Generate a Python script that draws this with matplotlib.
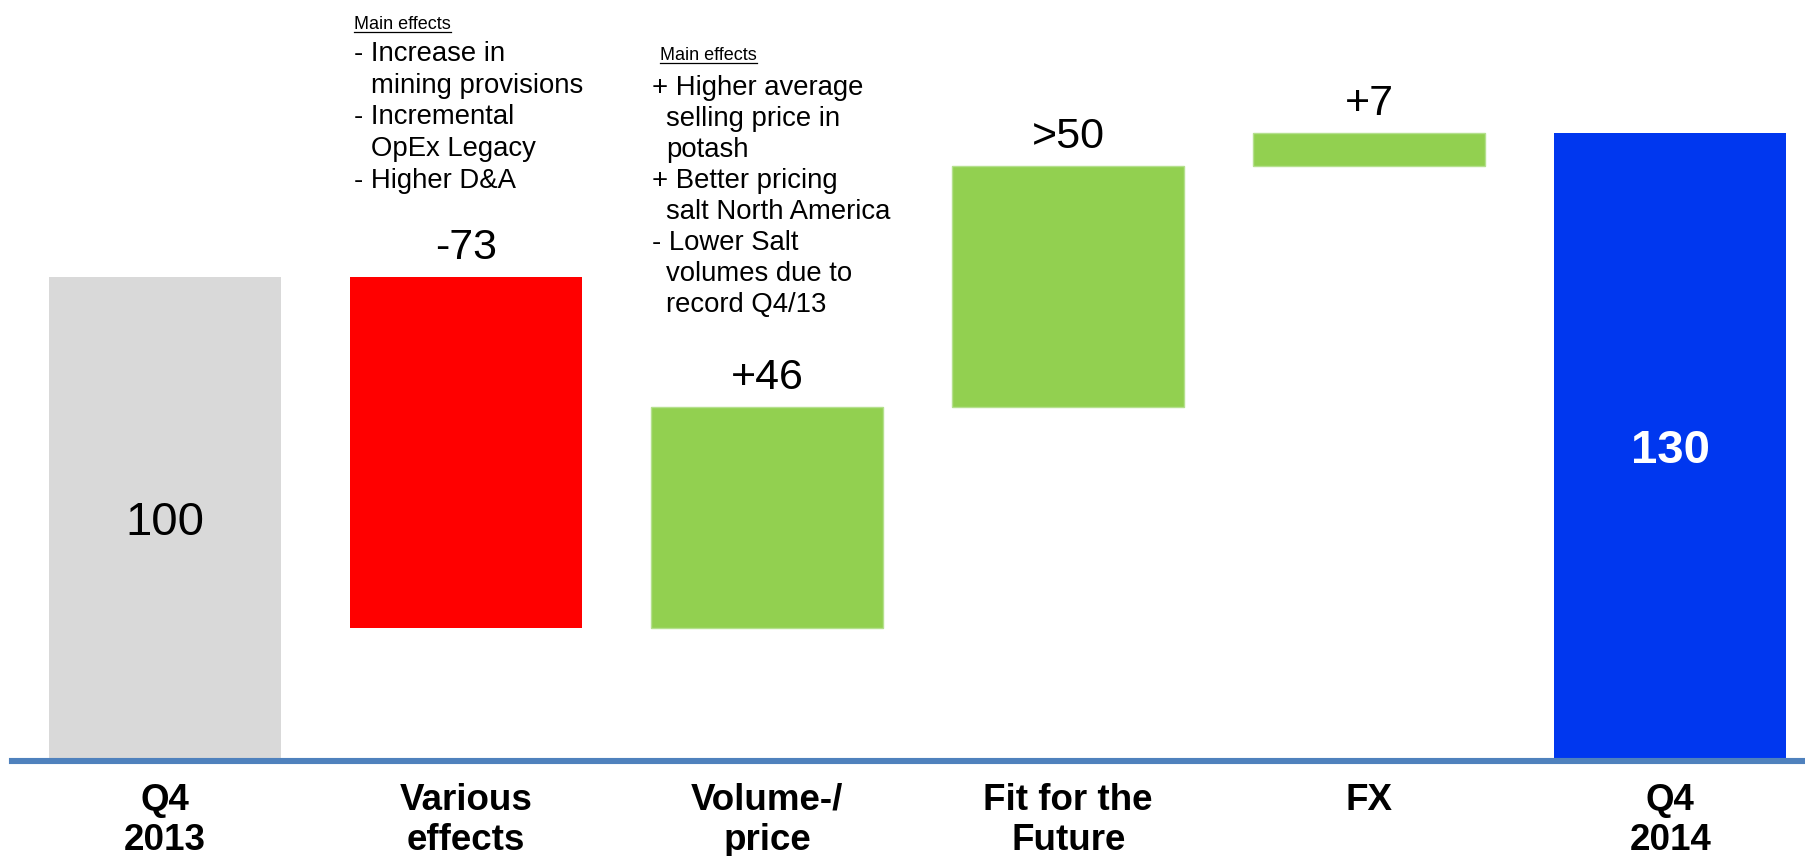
import matplotlib
matplotlib.use("Agg")
import matplotlib.pyplot as plt
from matplotlib.lines import Line2D

plt.rcParams['font.family'] = ['Liberation Sans', 'DejaVu Sans']

# ---- data ----
categories = ["Q4\n2013", "Various\neffects", "Volume-/\nprice", "Fit for the\nFuture", "FX", "Q4\n2014"]
values = [100, -73, 46, 50, 7, 130]
kinds = ["total", "delta", "delta", "delta", "delta", "total"]
value_labels = ["100", "-73", "+46", ">50", "+7", "130"]

notes1_title = "Main effects"
notes1 = [("- Increase in", 0), ("mining provisions", 1), ("- Incremental", 0),
          ("OpEx Legacy", 1), ("- Higher D&A", 0)]
notes2_title = "Main effects"
notes2 = [("+ Higher average", 0), ("selling price in", 1), ("potash", 1),
          ("+ Better pricing", 0), ("salt North America", 1), ("- Lower Salt", 0),
          ("volumes due to", 1), ("record Q4/13", 1)]

# ---- colours ----
c_total_start = "#D9D9D9"
c_neg = "#FF0000"
c_pos = "#92D050"
c_total_end = "#0037EF"
c_axis = "#4F81BD"

W, H = 1806, 856
fig = plt.figure(figsize=(W / 100, H / 100), dpi=100)

# axes: left at px 12, bottom (value 0) at px 758 from top, reaching the top edge
ax = fig.add_axes([12 / W, (H - 758) / H, (W - 12) / W, 758 / H])
ax.set_xlim(-0.509, 5.451)
ax.set_ylim(0, 758 / 4.81)

bottoms, heights, colors = [], [], []
running = 0
for i, (v, k) in enumerate(zip(values, kinds)):
    if k == "total":
        bottoms.append(0)
        heights.append(v)
        colors.append(c_total_start if i == 0 else c_total_end)
        running = v
    else:
        if v < 0:
            bottoms.append(running + v)
            heights.append(-v)
            colors.append(c_neg)
        else:
            bottoms.append(running)
            heights.append(v)
            colors.append(c_pos)
        running += v

x = list(range(len(values)))
bars = ax.bar(x, heights, bottom=bottoms, width=0.77, color=colors, zorder=2)
for b, c in zip(bars, colors):
    if c == c_pos:
        b.set_edgecolor("#B5E08E")
        b.set_linewidth(1.0)

for s in ["top", "right", "left"]:
    ax.spines[s].set_visible(False)
ax.spines["bottom"].set_color(c_axis)
ax.spines["bottom"].set_linewidth(4.4)
ax.spines["bottom"].set_position(("outward", 2.2))
ax.set_yticks([])
ax.set_xticks([])

# value labels
for i, (lbl, k) in enumerate(zip(value_labels, kinds)):
    if k == "total":
        ymid = bottoms[i] + heights[i] / 2
        ax.annotate(lbl, (i, ymid), xytext=(0, -4), textcoords="offset points",
                    ha="center", va="center", fontsize=34,
                    color="black" if i == 0 else "white",
                    fontweight="normal" if i == 0 else "bold")
    else:
        top = bottoms[i] + heights[i]
        ax.annotate(lbl, (i, top), xytext=(0, 13), textcoords="offset points",
                    ha="center", va="baseline", fontsize=31, color="black")

# category labels
for i, cat in enumerate(categories):
    ax.text(i, (758 - 783) / 4.81, cat, ha="center", va="top", fontsize=26.5,
            fontweight="bold", linespacing=1.17)

# notes
def fx(px):
    return px / W

def fy(py):
    return 1 - py / H

def notes(x_title, x0, indent, title_base, first_base, step, title, lines):
    t = fig.text(fx(x_title), fy(title_base), title, fontsize=13, va="baseline", ha="left")
    for j, (line, ind) in enumerate(lines):
        fig.text(fx(x0 + (indent if ind else 0)), fy(first_base + j * step), line,
                 fontsize=19.8, va="baseline", ha="left")
    return t

t1 = notes(354, 354, 17, 29, 61, 31.7, notes1_title, notes1)
t2 = notes(660, 652, 14, 60, 95, 31.0, notes2_title, notes2)

fig.canvas.draw()
r = fig.canvas.get_renderer()
for t in (t1, t2):
    bb = t.get_window_extent(renderer=r)
    yline = t.get_position()[1] - 3.0 / H
    fig.add_artist(Line2D([bb.x0 / W, bb.x1 / W], [yline, yline], color="black", lw=0.9))

fig.savefig("out.png", dpi=100)
